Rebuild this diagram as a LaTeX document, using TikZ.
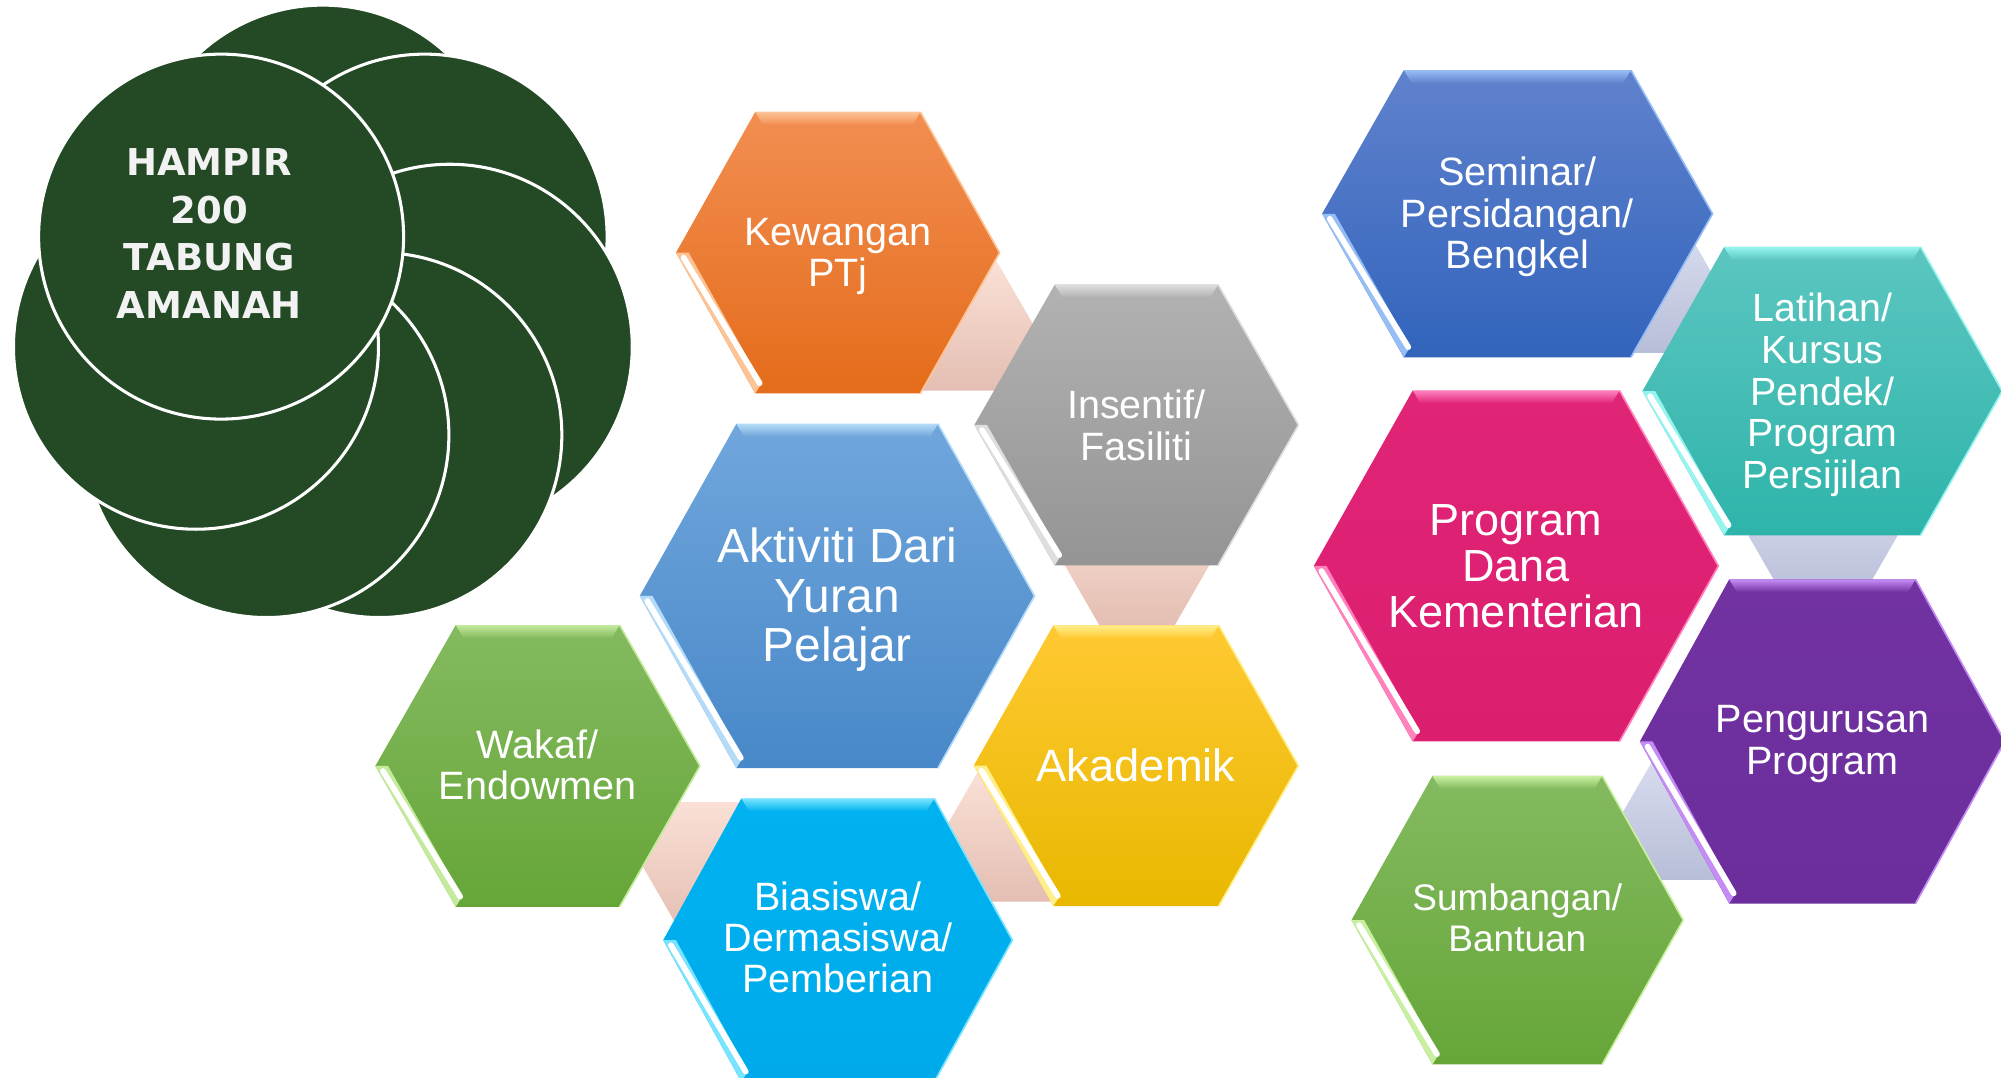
\documentclass[tikz,border=0pt]{standalone}
\usepackage{fontspec}
\setmainfont{Liberation Sans}
\newfontfamily\circfont{DejaVu Sans}

% hexagon colours: T top, B bottom, L highlight
\definecolor{kewT}{RGB}{242,142,82}\definecolor{kewB}{RGB}{228,108,26}\definecolor{kewL}{RGB}{252,196,150}
\definecolor{insT}{RGB}{178,178,178}\definecolor{insB}{RGB}{148,148,148}\definecolor{insL}{RGB}{222,222,222}
\definecolor{aktT}{RGB}{112,166,220}\definecolor{aktB}{RGB}{72,136,200}\definecolor{aktL}{RGB}{180,220,248}
\definecolor{wakT}{RGB}{132,186,96}\definecolor{wakB}{RGB}{102,166,56}\definecolor{wakL}{RGB}{196,234,156}
\definecolor{akaT}{RGB}{255,201,50}\definecolor{akaB}{RGB}{232,184,0}\definecolor{akaL}{RGB}{255,238,140}
\definecolor{biaT}{RGB}{0,178,240}\definecolor{biaB}{RGB}{0,170,234}\definecolor{biaL}{RGB}{120,228,255}
\definecolor{semT}{RGB}{96,130,205}\definecolor{semB}{RGB}{50,100,188}\definecolor{semL}{RGB}{150,190,245}
\definecolor{latT}{RGB}{92,198,192}\definecolor{latB}{RGB}{46,180,170}\definecolor{latL}{RGB}{150,244,238}
\definecolor{proT}{RGB}{224,36,118}\definecolor{proB}{RGB}{220,30,110}\definecolor{proL}{RGB}{255,130,190}
\definecolor{penT}{RGB}{114,50,162}\definecolor{penB}{RGB}{108,46,156}\definecolor{penL}{RGB}{196,140,245}
\definecolor{sumT}{RGB}{132,186,96}\definecolor{sumB}{RGB}{102,166,56}\definecolor{sumL}{RGB}{200,240,160}
% connector colours
\definecolor{peachT}{RGB}{250,224,214}\definecolor{peachB}{RGB}{228,190,178}
\definecolor{lavT}{RGB}{218,222,240}\definecolor{lavB}{RGB}{184,190,216}
\definecolor{ringgreen}{RGB}{35,73,37}
\definecolor{ringtext}{RGB}{242,242,242}

\tikzset{
  hextext/.style={text=white, align=center, inner sep=0pt},
  ring/.style={fill=ringgreen, draw=white, line width=2.4pt},
}
\def\tdy{0}

% #1 name  #2 cx  #3 cy  #4 half-height  #5 half-width  #6 top half-width  #7 text  #8 size  #9 skip
\newcommand\HexTile[9]{%
  \shade[top color=#1T, bottom color=#1B]
    (#2-#5,#3) -- (#2-#6,#3-#4) -- (#2+#6,#3-#4) -- (#2+#5,#3)
    -- (#2+#6,#3+#4) -- (#2-#6,#3+#4) -- cycle;
  \shade[top color=#1L, bottom color=#1T]
    (#2-#6,#3-#4) -- (#2+#6,#3-#4) -- (#2+#6-6,#3-#4+10) -- (#2-#6+6,#3-#4+10) -- cycle;
  \fill[#1L]
    (#2-#5,#3) -- (#2-#6,#3+#4) -- (#2-#6+5,#3+#4-8) -- (#2-#5+10,#3) -- cycle;
  \draw[white, line width=4.5pt, line cap=round]
    (#2-#5+6,#3+4) -- (#2-#6+3.5,#3+#4-8);
  \draw[#1L, line width=1.3pt, line join=round]
    (#2+#6,#3-#4) -- (#2+#5,#3) -- (#2+#6,#3+#4);
  \node[hextext, font=\fontsize{#8pt}{#9pt}\selectfont] (#1) at (#2,#3+\tdy) {#7};
}

% connector hexagon: #1 name  #2 cx  #3 cy  #4 colour prefix
\newcommand\ConnHex[4]{%
  \coordinate (#1) at (#2,#3);
  \shade[top color=#4T, bottom color=#4B]
    (#2-58.3,#3) -- (#2-29.2,#3-50.5) -- (#2+29.2,#3-50.5) -- (#2+58.3,#3)
    -- (#2+29.2,#3+50.5) -- (#2-29.2,#3+50.5) -- cycle;
}

\begin{document}
\begin{tikzpicture}[x=1pt, y=-1pt]
\path[use as bounding box] (0,0) rectangle (1568,844);
\clip (0,0) rectangle (1568,844);

% ---- ring of circles ----
\foreach \k in {0,...,6} {
  \path[ring] ({253+102*cos(90-\k*360/7)},{249-102*sin(90-\k*360/7)}) circle[radius=143pt];
}
\node[text=ringtext, align=center, inner sep=0pt,
      font=\circfont\bfseries\fontsize{29pt}{37.3pt}\selectfont] (hampir) at (164,183)
  {HAMPIR\\200\\TABUNG\\AMANAH};

% ---- connectors (behind tiles) ----
\ConnHex{ckewins}{752}{255.5}{peach}
\ConnHex{cinsaka}{891}{440}{peach}
\ConnHex{cakabia}{795}{656}{peach}
\ConnHex{cwakbia}{562}{679}{peach}
\ConnHex{csemlat}{1290}{226}{lav}
\ConnHex{clatpen}{1428.5}{420}{lav}
\ConnHex{cpensum}{1328.5}{639}{lav}

% ---- left cluster ----
\def\tdy{3}
\HexTile{kew}{656.5}{198}{110.3}{126.8}{64.7}{Kewangan\\PTj}{31}{32.5}
\def\tdy{0}
\HexTile{ins}{890.5}{333}{110}{127}{64}{Insentif/\\Fasiliti}{31}{33}
\def\tdy{3}
\HexTile{akt}{656}{467}{134.9}{154.7}{79}{Aktiviti Dari\\Yuran\\Pelajar}{37.5}{39}
\def\tdy{-1}
\HexTile{wak}{421.3}{600.2}{110.4}{127.2}{64.2}{Wakaf/\\Endowmen}{31}{32}
\def\tdy{0}
\HexTile{aka}{890.2}{600}{110}{127.2}{64.8}{Akademik}{35.5}{37}
\def\tdy{-2}
\HexTile{bia}{656.5}{736.7}{111}{136.8}{75.6}{Biasiswa/\\Dermasiswa/\\Pemberian}{31}{32}

% ---- right cluster ----
\def\tdy{2.5}
\HexTile{sem}{1189}{167.5}{112.5}{153}{89}{Seminar/\\Persidangan/\\Bengkel}{31}{32.5}
\def\tdy{3}
\HexTile{lat}{1428}{306.5}{113}{141}{77}{Latihan/\\Kursus\\Pendek/\\Program\\Persijilan}{30.8}{32.75}
\def\tdy{0}
\HexTile{pro}{1188}{443.5}{137.5}{158.5}{81}{Program\\Dana\\Kementerian}{35.3}{36}
\def\tdy{2}
\HexTile{pen}{1428}{581}{127}{143}{73}{Pengurusan\\Program}{31}{33}
\def\tdy{-2}
\HexTile{sum}{1189}{721}{113}{130}{66.5}{Sumbangan/\\Bantuan}{29}{32}
\end{tikzpicture}
\end{document}
